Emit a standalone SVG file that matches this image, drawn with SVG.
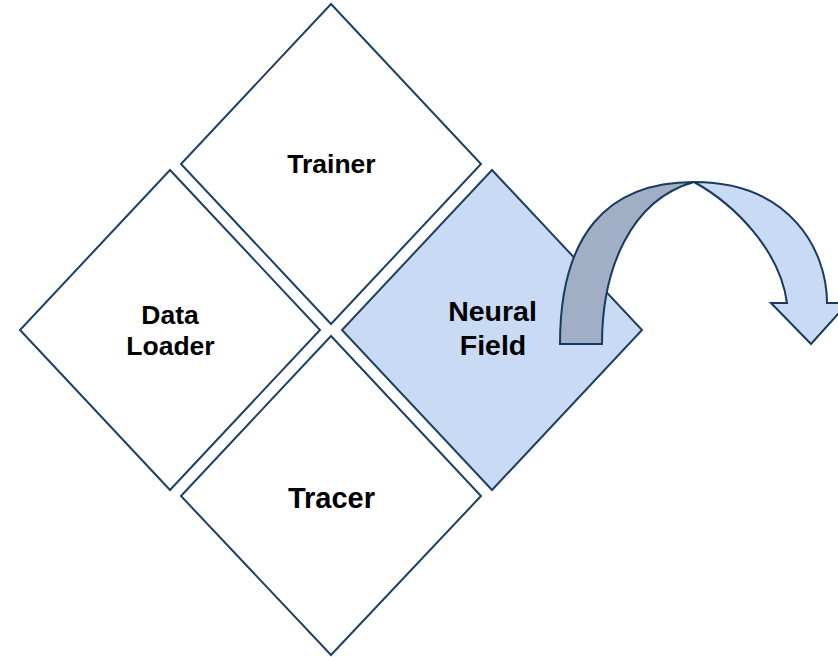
<svg xmlns="http://www.w3.org/2000/svg" width="838" height="657" viewBox="0 0 838 657">
<style>
.d{fill:#ffffff;stroke:#1d3f62;stroke-width:2;stroke-linejoin:miter}
.nf{fill:#c9daf5}
.t{font-family:"Liberation Sans",Arial,sans-serif;font-weight:bold;fill:#000;text-anchor:middle}
.a{stroke:#173a5e;stroke-width:2;stroke-linejoin:miter}
</style>
<rect width="838" height="657" fill="#ffffff"/>
<g id="trainer">
<path class="d" d="M331,4 L481,164 L331,324 L181,164 Z"/>
<text class="t" x="331.5" y="173" font-size="26.5">Trainer</text>
</g>
<g id="data-loader">
<path class="d" d="M170,170 L320,330 L170,490 L20,330 Z"/>
<text class="t" x="170" y="324" font-size="26.5">Data</text>
<text class="t" x="170.5" y="355" font-size="26.5">Loader</text>
</g>
<g id="tracer">
<path class="d" d="M331,336 L481,496 L331,655 L181,496 Z"/>
<text class="t" x="331.5" y="508" font-size="29">Tracer</text>
</g>
<g id="neural-field">
<path class="d nf" d="M492,170 L642,330 L492,490 L342,330 Z"/>
<text class="t" x="492.5" y="320.5" font-size="28.5">Neural</text>
<text class="t" x="493" y="355" font-size="28.5">Field</text>
</g>
<g id="connectors">
<path class="a" fill="#c9daf5" d="M694,182 C790,182 827,250 827,303 L848,303 L811,344 L771,303 L787,303 C780,250 734,204 694,182 Z"/>
<path class="a" fill="#a1afc6" d="M560,344 C560,236 606,182 694,182 C630,200 602,270 602,344 Z"/>
</g>
</svg>
